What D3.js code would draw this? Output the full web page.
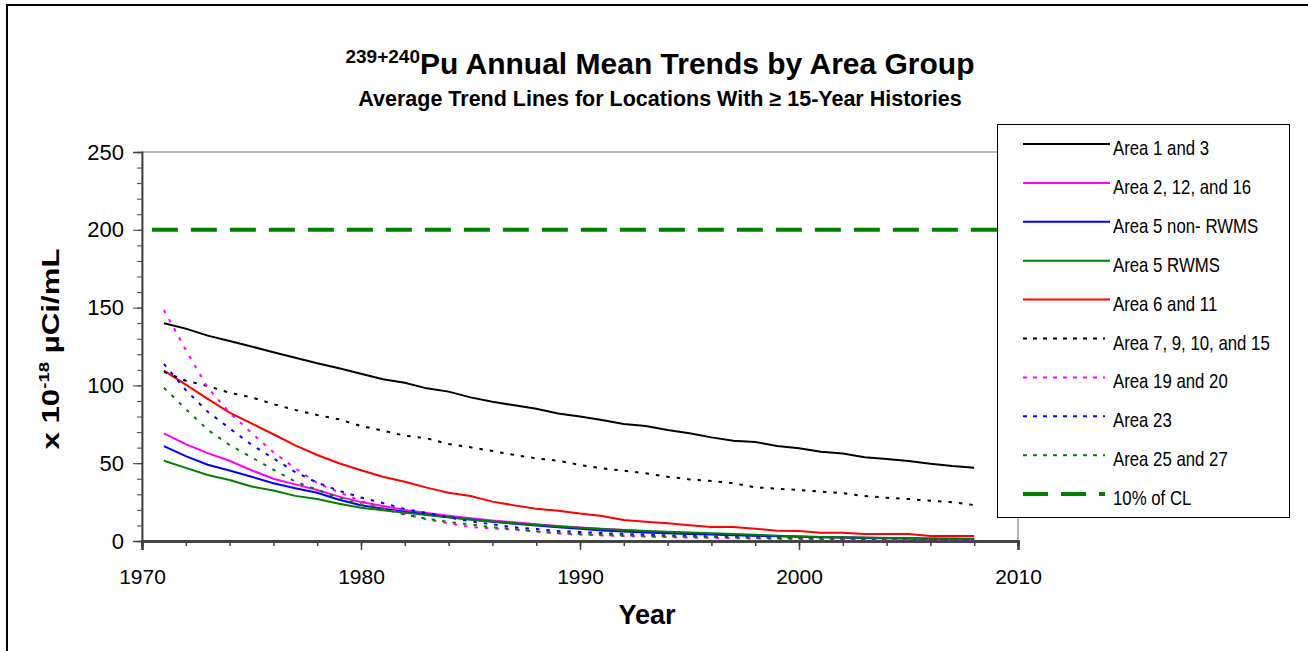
<!DOCTYPE html>
<html>
<head>
<meta charset="utf-8">
<script src="https://cdn.jsdelivr.net/npm/d3@7"></script>
<style>
  body { margin: 0; background: #fff; }
  svg { display: block; font-family: "Liberation Sans", Arial, sans-serif; }
</style>
</head>
<body>
<svg id="chart" width="1308" height="651"></svg>
<script>
// Years on the x axis (one point per year).
const years = [1971, 1972, 1973, 1974, 1975, 1976, 1977, 1978, 1979, 1980,
  1981, 1982, 1983, 1984, 1985, 1986, 1987, 1988, 1989, 1990,
  1991, 1992, 1993, 1994, 1995, 1996, 1997, 1998, 1999, 2000,
  2001, 2002, 2003, 2004, 2005, 2006, 2007, 2008];

const area1and3 = [140, 136.5, 132, 128.5, 125, 121.3, 117.8, 114.2, 111, 107.5,
  104, 101.7, 98.1, 96, 92.3, 89.5, 87.2, 85, 82, 80,
  77.8, 75.2, 73.9, 71.3, 69.2, 66.6, 64.5, 63.6, 61.1, 59.6,
  57.4, 56.3, 53.8, 52.7, 51.4, 49.7, 48.2, 47.1];
const area2and12and16 = [69.2, 62.3, 56.5, 51.6, 45.5, 40, 36.4, 32.8, 28.5, 25,
  22.5, 20, 18, 16.3, 14.6, 13.2, 12, 10.8, 9.7, 8.7,
  7.8, 7, 6.3, 5.6, 5, 4.5, 4, 3.6, 3.2, 2.9,
  2.6, 2.3, 2.1, 1.9, 1.7, 1.5, 1.4, 1.2];
const area5nonRwms = [61, 54.5, 49, 45.3, 41.3, 37.1, 33.9, 31, 26.5, 23,
  20.8, 18.8, 17, 15.3, 13.8, 12.4, 11.1, 9.9, 8.8, 7.8,
  6.8, 6.1, 5.5, 5, 4.5, 4.1, 3.7, 3.3, 3, 2.7,
  2.4, 2.2, 2, 1.8, 1.6, 1.5, 1.4, 1.3];
const area5Rwms = [51.6, 47, 42.4, 39.2, 35, 32.5, 29, 27, 24, 21.3,
  19.7, 18.2, 16.7, 15.2, 13.8, 12.6, 11.4, 10.4, 9.4, 8.5,
  7.7, 7.1, 6.5, 6, 5.5, 5, 4.5, 4, 3.4, 2.9,
  2.6, 2.4, 2.2, 2, 1.8, 1.6, 1.5, 1.4];
const area6and11 = [109.5, 100.5, 91.3, 82.5, 75.6, 68.6, 61.5, 55.3, 50, 45.5,
  41.3, 38.1, 34.3, 31, 28.9, 25.3, 22.9, 20.8, 19.5, 17.6,
  16.1, 13.5, 12.4, 11.4, 10.1, 9, 9, 7.9, 6.6, 6.4,
  5.3, 5.3, 4.5, 4.5, 4.5, 3.2, 3.2, 3.2];
const area7and9and10and15 = [108.8, 103, 99.6, 95.3, 92.3, 88, 84.2, 81, 78.2, 73.9,
  70.9, 67.7, 66, 62.3, 60.2, 57.8, 55.3, 53.1, 51.6, 48.9,
  46.7, 45.2, 43.5, 41.3, 39.6, 38.6, 37.1, 34.5, 33.6, 32.8,
  31.7, 30.7, 28.9, 27.8, 27, 25.9, 24.9, 23.1];
const area19and20 = [148.5, 122.8, 98.5, 82.5, 69.5, 57, 46.7, 37.3, 31.3, 25.7,
  21, 17.4, 13.9, 11.4, 9, 8.1, 7.3, 6, 4.9, 4.1,
  3.6, 3.2, 2.8, 2.5, 2.2, 2, 1.8, 1.6, 1.4, 1.3,
  1.2, 1.1, 1, 0.9, 0.8, 0.8, 0.7, 0.7];
const area23 = [113.8, 97, 83.1, 72.4, 61.9, 53.1, 44.3, 37.5, 32.3, 28,
  24.4, 20.6, 18, 15.2, 12.7, 10.7, 8.8, 7.7, 6.4, 5.8,
  5.1, 4.5, 4, 3.6, 3.2, 2.9, 2.6, 2.3, 2.1, 1.9,
  1.7, 1.6, 1.4, 1.3, 1.2, 1.1, 1, 1];
const area25and27 = [98.5, 84.8, 71.5, 61.7, 53.8, 45.8, 38.1, 33, 27.6, 23.6,
  20.8, 16.9, 14.3, 12.2, 10.7, 8.8, 7.7, 6.2, 5.1, 4.5,
  4, 3.6, 3.2, 2.9, 2.6, 2.4, 2.2, 2, 1.8, 1.7,
  1.6, 1.5, 1.4, 1.3, 1.2, 1.1, 1.1, 1];

// 10% of the concentration limit, drawn across the plot.
const clYears = [1970.45, 2010];
const clValues = [200, 200];

const seriesNames = ['Area 1 and 3', 'Area 2, 12, and 16', 'Area 5 non- RWMS',
  'Area 5 RWMS', 'Area 6 and 11', 'Area 7, 9, 10, and 15', 'Area 19 and 20',
  'Area 23', 'Area 25 and 27', '10% of CL'];

const yTicks = [0, 50, 100, 150, 200, 250];
const xTicks = [1970, 1980, 1990, 2000, 2010];

const FONT = '"Liberation Sans", Arial, sans-serif';

const SERIES = [
  {values: area1and3, color: '#000000', dash: null},
  {values: area2and12and16, color: '#ff00ff', dash: null},
  {values: area5nonRwms, color: '#0000ff', dash: null},
  {values: area5Rwms, color: '#008000', dash: null},
  {values: area6and11, color: '#ff0000', dash: null},
  {values: area7and9and10and15, color: '#000000', dash: '3.5,7'},
  {values: area19and20, color: '#ff00ff', dash: '3.5,7'},
  {values: area23, color: '#0000ff', dash: '3.5,7'},
  {values: area25and27, color: '#008000', dash: '3.5,7'},
];

const svg = d3.select('#chart');
const margin = {left: 142, top: 152, right: 1018, bottom: 541};

const x = d3.scaleLinear().domain([1970, 2010])
    .range([margin.left, margin.right]);
const y = d3.scaleLinear().domain([0, 250])
    .range([margin.bottom, margin.top]);

// Outer chart border.
svg.append('rect')
    .attr('x', 7).attr('y', 5)
    .attr('width', 1320).attr('height', 680)
    .attr('fill', 'none')
    .attr('stroke', '#000')
    .attr('stroke-width', 2);

// Plot area border (top and right are light gray).
svg.append('rect')
    .attr('x', margin.left).attr('y', margin.top)
    .attr('width', margin.right - margin.left)
    .attr('height', margin.bottom - margin.top)
    .attr('fill', 'none')
    .attr('stroke', '#a0a0a0')
    .attr('stroke-width', 1.5);

// Y axis with minor ticks every 10.
const yMinor = d3.axisLeft(y).tickValues(d3.range(0, 251, 10))
    .tickSize(5).tickFormat('');
const yMajor = d3.axisLeft(y).tickValues(yTicks).tickSize(9).tickPadding(9);
[yMinor, yMajor].forEach(ax => {
  const g = svg.append('g')
      .attr('transform', `translate(${margin.left},0)`)
      .call(ax)
      .attr('font-family', FONT);
  g.select('.domain').attr('stroke', '#404040').attr('stroke-width', 1.5);
  g.selectAll('.tick line').attr('stroke', '#404040');
  g.selectAll('text')
      .attr('fill', '#000')
      .style('font-size', '22px');
});

// X axis with minor ticks every 2 years.
const xMinor = d3.axisBottom(x).tickValues(d3.range(1970, 2011, 2))
    .tickSize(5).tickFormat('');
const xMajor = d3.axisBottom(x).tickValues(xTicks).tickSize(9)
    .tickPadding(19).tickFormat(d3.format('d'));
[xMinor, xMajor].forEach(ax => {
  const g = svg.append('g')
      .attr('transform', `translate(0,${margin.bottom})`)
      .call(ax)
      .attr('font-family', FONT);
  g.select('.domain').attr('stroke', '#404040').attr('stroke-width', 2.5);
  g.selectAll('.tick line').attr('stroke', '#404040').attr('stroke-width', 1.5);
  g.selectAll('text')
      .attr('fill', '#000')
      .style('font-size', '21px');
});

// Series lines.
const line = d3.line()
    .x(d => x(d[0]))
    .y(d => y(d[1]));

const lineGroup = svg.append('g').attr('fill', 'none');
SERIES.forEach(s => {
  lineGroup.append('path')
      .datum(years.map((yr, i) => [yr, s.values[i]]))
      .attr('d', line)
      .attr('stroke', s.color)
      .attr('stroke-width', 2)
      .attr('stroke-dasharray', s.dash);
});
lineGroup.append('path')
    .datum(clYears.map((yr, i) => [yr, clValues[i]]))
    .attr('d', line)
    .attr('stroke', '#008000')
    .attr('stroke-width', 4)
    .attr('stroke-dasharray', '26,13');

// Titles.
const title = svg.append('text')
    .attr('x', 660).attr('y', 74)
    .attr('text-anchor', 'middle')
    .attr('font-weight', 'bold');
title.append('tspan')
    .attr('font-size', 19)
    .attr('dy', -11)
    .text('239+240');
title.append('tspan')
    .attr('font-size', 30)
    .attr('dy', 11)
    .text('Pu Annual Mean Trends by Area Group');

svg.append('text')
    .attr('x', 660).attr('y', 106)
    .attr('text-anchor', 'middle')
    .attr('font-weight', 'bold')
    .attr('font-size', 21.5)
    .text('Average Trend Lines for Locations With \u2265 15-Year Histories');

// Axis titles.
svg.append('text')
    .attr('x', 647).attr('y', 624)
    .attr('text-anchor', 'middle')
    .attr('font-weight', 'bold')
    .attr('font-size', 27)
    .text('Year');

const yTitle = svg.append('text')
    .attr('transform', 'translate(59,349) rotate(-90) scale(1.33,1)')
    .attr('text-anchor', 'middle')
    .attr('font-weight', 'bold')
    .attr('font-size', 23.5);
yTitle.append('tspan').text('x 10');
yTitle.append('tspan').attr('font-size', 14).attr('dy', -10).text('-18');
yTitle.append('tspan').attr('dy', 10).text(' \u00b5Ci/mL');

// Legend.
const legend = svg.append('g');
legend.append('rect')
    .attr('x', 997.5).attr('y', 124.5)
    .attr('width', 292).attr('height', 393)
    .attr('fill', '#fff')
    .attr('stroke', '#000')
    .attr('stroke-width', 1);

const legendItems = SERIES.map(s => ({color: s.color, dash: s.dash, width: 2}))
    .concat([{color: '#008000', dash: '25,13', width: 4}]);
legendItems.forEach((item, i) => {
  const ly = 144 + i * 38.9;
  legend.append('line')
      .attr('x1', 1023).attr('x2', item.dash ? 1105 : 1110)
      .attr('y1', ly).attr('y2', ly)
      .attr('stroke', item.color)
      .attr('stroke-width', item.width)
      .attr('stroke-dasharray', item.dash ? (item.width > 2 ? item.dash : '4,6') : null);
  legend.append('text')
      .attr('transform', `translate(1113,${ly + 11}) scale(0.84,1)`)
      .attr('font-size', 20)
      .text(seriesNames[i]);
});
</script>
</body>
</html>
